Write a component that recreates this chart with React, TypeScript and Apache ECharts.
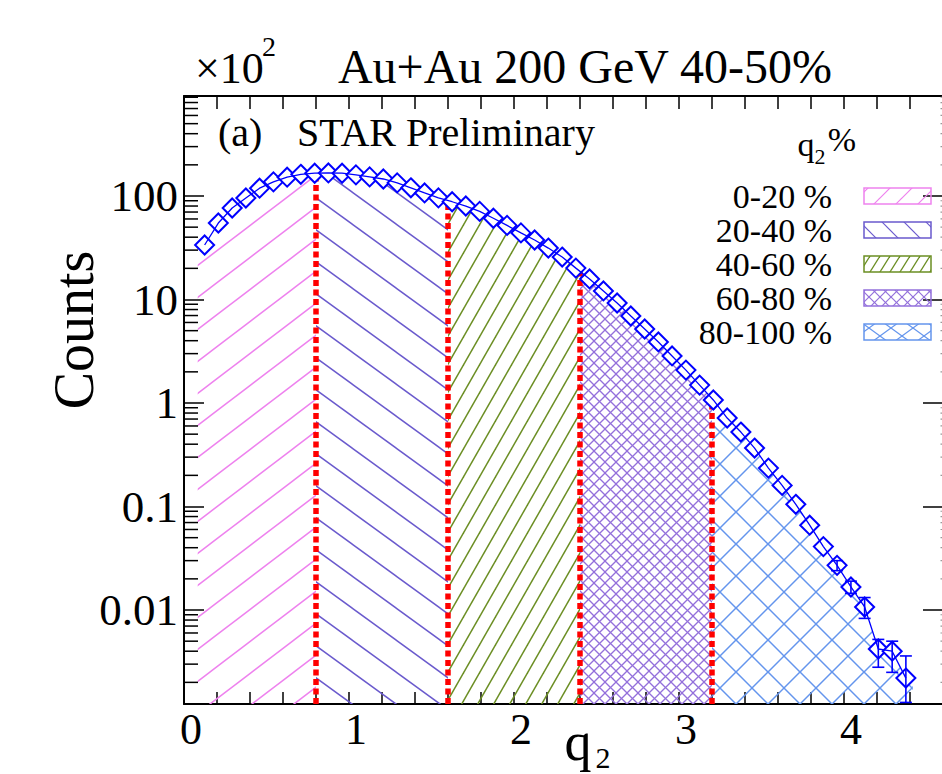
import React, { useEffect, useRef } from 'react';
import * as echarts from 'echarts';

// ---- data ----
const binCenters = [0.125, 0.208, 0.292, 0.375, 0.458, 0.542, 0.625, 0.708, 0.792, 0.875, 0.958, 1.042, 1.125, 1.208, 1.292, 1.375, 1.458, 1.542, 1.625, 1.708, 1.792, 1.875, 1.958, 2.042, 2.125, 2.208, 2.292, 2.375, 2.458, 2.542, 2.625, 2.708, 2.792, 2.875, 2.958, 3.042, 3.125, 3.208, 3.292, 3.375, 3.458, 3.542, 3.625, 3.708, 3.792, 3.875, 3.958, 4.042, 4.125, 4.208, 4.292, 4.375];
const counts = [33.6, 54.8, 76.6, 95.6, 119, 137, 152, 162, 166, 167, 166, 160, 153, 146, 134, 120, 107, 96, 88, 80, 71, 61, 52, 44, 37.6, 31.4, 25.7, 20.1, 15.8, 12.1, 9.25, 6.93, 5.19, 3.89, 2.85, 2.08, 1.49, 1.07, 0.716, 0.524, 0.367, 0.235, 0.16, 0.105, 0.066, 0.041, 0.027, 0.0167, 0.0107, 0.0042, 0.004, 0.0022];

const errQ = [3.958, 4.042, 4.125, 4.208, 4.292, 4.375];
const errLow = [0.024, 0.0145, 0.0083, 0.0028, 0.0025, 0.00128];
const errHigh = [0.03, 0.019, 0.0132, 0.0052, 0.005, 0.0036];

const cutPositions = [0.8, 1.6, 2.4, 3.2];
const cutTops = [166, 90, 18.6, 1.1];

const regionEdges = [0.083, 0.8, 1.6, 2.4, 3.2, 4.417];
const regionEdgeValues = [30, 166, 90, 18.6, 1.1, 0.002];
const regionLabels = ['0-20 %', '20-40 %', '40-60 %', '60-80 %', '80-100 %'];
const regionColors = ['#ee82ee', '#6a5acd', '#6b8e23', '#9370db', '#6495ed'];

const xTickValues = [0, 1, 2, 3, 4];
const xTickLabels = ['0', '1', '2', '3', '4'];
const yTickValues = [0.01, 0.1, 1, 10, 100];
const yTickLabels = ['0.01', '0.1', '1', '10', '100'];

const FONT = 'Liberation Serif';
const Y_MIN = 0.001236;
const Y_MAX = 925;
const X_MAX = 4.6;

function makeHatch(w: number, h: number, color: string, lw: number, dirs: string[]) {
  const c = document.createElement('canvas');
  c.width = w;
  c.height = h;
  const ctx = c.getContext('2d') as CanvasRenderingContext2D;
  ctx.strokeStyle = color;
  ctx.lineWidth = lw;
  for (const d of dirs) {
    for (let n = -2; n <= 2; n++) {
      ctx.beginPath();
      if (d === 'up') {
        ctx.moveTo(-w, 2 * h + n * h);
        ctx.lineTo(2 * w, -h + n * h);
      } else {
        ctx.moveTo(-w, -h + n * h);
        ctx.lineTo(2 * w, 2 * h + n * h);
      }
      ctx.stroke();
    }
  }
  return { image: c, repeat: 'repeat', imageWidth: w, imageHeight: h } as any;
}

export default function App() {
  const ref = useRef<HTMLDivElement>(null);
  useEffect(() => {
    document.body.style.margin = '0';
    if (!ref.current) return;
    const chart = echarts.init(ref.current, null as any, { renderer: 'svg' });

    const plotPatterns = [
      makeHatch(42, 32, regionColors[0], 1.5, ['up']),
      makeHatch(44, 32, regionColors[1], 1.5, ['down']),
      makeHatch(16, 28, regionColors[2], 1.5, ['up']),
      makeHatch(11, 11, regionColors[3], 1.3, ['up', 'down']),
      makeHatch(32, 32, regionColors[4], 1.5, ['up', 'down']),
    ];
    const legendPatterns = [
      makeHatch(22, 22, regionColors[0], 1.2, ['up']),
      makeHatch(22, 22, regionColors[1], 1.2, ['down']),
      makeHatch(10, 16, regionColors[2], 1.2, ['up']),
      makeHatch(11, 11, regionColors[3], 1.2, ['up', 'down']),
      makeHatch(22, 16, regionColors[4], 1.2, ['up', 'down']),
    ];

    const minorTicks: number[] = [];
    for (let e = -3; e <= 2; e++) {
      for (let m = 2; m <= 9; m++) {
        const v = m * Math.pow(10, e);
        if (v > Y_MIN && v < Y_MAX) minorTicks.push(v);
      }
    }

    const areaSeries = regionLabels.map((name, i) => {
      const a = regionEdges[i];
      const b = regionEdges[i + 1];
      const pts: number[][] = [[a, regionEdgeValues[i]]];
      binCenters.forEach((q, k) => {
        if (q > a && q < b) pts.push([q, counts[k]]);
      });
      pts.push([b, regionEdgeValues[i + 1]]);
      return {
        type: 'line',
        name,
        data: pts,
        symbol: 'none',
        showSymbol: false,
        silent: true,
        z: 1,
        lineStyle: { width: 0, opacity: 0 },
        areaStyle: { color: plotPatterns[i], opacity: 1, origin: 'start' },
      };
    });

    const points = binCenters.map((q, i) => [q, counts[i]]);

    const xFormatter = (v: number) => {
      const idx = xTickValues.findIndex((t) => Math.abs(t - v) < 1e-6);
      return idx >= 0 ? xTickLabels[idx] : '';
    };
    const yFormatter = (v: number) => {
      const idx = yTickValues.findIndex((t) => Math.abs(Math.log10(t) - Math.log10(v)) < 1e-6);
      return idx >= 0 ? yTickLabels[idx] : '';
    };

    const legendY = [196, 230, 264, 298, 332];
    const txt = (text: string, x: number, y: number, size: number, align = 'left', extra: any = {}) => ({
      type: 'text',
      x,
      y,
      z: 100,
      ...extra,
      style: { text, fontSize: size, fontFamily: FONT, fill: '#000', align, verticalAlign: 'middle' },
    });

    const graphic: any[] = [
      txt('×10', 195, 68, 44),
      txt('2', 262, 46, 28),
      txt('Au+Au 200 GeV 40-50%', 585, 66, 48, 'center'),
      txt('(a)', 218, 132, 40),
      txt('STAR Preliminary', 297, 132, 40),
      txt('Counts', 74, 330, 56, 'center', { rotation: Math.PI / 2 }),
      txt('q', 578, 742, 54, 'center'),
      txt('2', 603, 757, 30, 'center'),
      txt('q', 806, 144, 34, 'center'),
      txt('2', 820, 156, 22, 'center'),
      txt('%', 842, 139, 34, 'center'),
    ];
    regionLabels.forEach((label, i) => {
      graphic.push(txt(label, 832, legendY[i], 34, 'right'));
      graphic.push({
        type: 'rect',
        z: 100,
        shape: { x: 864, y: legendY[i] - 8, width: 67, height: 16 },
        style: { fill: legendPatterns[i], stroke: regionColors[i], lineWidth: 1.5 },
      });
    });

    const axisLine = { show: true, onZero: false, lineStyle: { color: '#000', width: 2 } };

    chart.setOption({
      animation: false,
      backgroundColor: '#fff',
      grid: { left: 184, top: 96, width: 759, height: 608, containLabel: false, outerBoundsMode: 'none' },
      xAxis: [
        {
          type: 'value',
          position: 'bottom',
          min: 0,
          max: X_MAX,
          interval: 0.2,
          axisLine,
          axisTick: { show: true, inside: true, length: 12, lineStyle: { color: '#000', width: 1.5 } },
          axisLabel: {
            show: true,
            margin: 3,
            color: '#000',
            fontFamily: FONT,
            fontSize: 44,
            padding: [0, 0, 0, 14],
            formatter: xFormatter,
          },
          splitLine: { show: false },
        },
        {
          type: 'value',
          position: 'top',
          min: 0,
          max: X_MAX,
          interval: 0.2,
          axisLine,
          axisTick: { show: true, inside: true, length: 13, lineStyle: { color: '#000', width: 1.5 } },
          axisLabel: { show: false },
          splitLine: { show: false },
        },
      ],
      yAxis: [
        {
          type: 'log',
          logBase: 10,
          position: 'left',
          min: Y_MIN,
          max: Y_MAX,
          axisLine,
          axisTick: { show: true, inside: true, length: 20, lineStyle: { color: '#000', width: 1.5 } },
          axisLabel: {
            show: true,
            margin: 6,
            color: '#000',
            fontFamily: FONT,
            fontSize: 45,
            showMinLabel: false,
            showMaxLabel: false,
            formatter: yFormatter,
          },
          splitLine: { show: false },
        },
        {
          type: 'log',
          logBase: 10,
          position: 'right',
          min: Y_MIN,
          max: Y_MAX,
          axisLine,
          axisTick: { show: true, inside: true, length: 20, lineStyle: { color: '#000', width: 1.5 } },
          axisLabel: { show: false },
          splitLine: { show: false },
        },
      ],
      graphic,
      series: [
        ...areaSeries,
        {
          type: 'custom',
          name: 'cuts',
          silent: true,
          z: 2,
          clip: false,
          data: cutPositions.map((q, i) => [q, cutTops[i]]),
          renderItem: (params: any, api: any) => {
            const q = api.value(0);
            const p1 = api.coord([q, Y_MIN]);
            const p2 = api.coord([q, api.value(1)]);
            return {
              type: 'line',
              shape: { x1: p1[0], y1: p1[1], x2: p2[0], y2: p2[1] },
              style: { stroke: '#ff0000', lineWidth: 5.5, lineDash: [6, 3.5], fill: null },
            };
          },
        },
        {
          type: 'custom',
          name: 'minorTicks',
          silent: true,
          z: 5,
          clip: false,
          data: minorTicks.map((v) => [0, v]),
          renderItem: (params: any, api: any) => {
            const v = api.value(1);
            const pl = api.coord([0, v]);
            const pr = api.coord([X_MAX, v]);
            return {
              type: 'group',
              children: [
                { type: 'line', shape: { x1: pl[0], y1: pl[1], x2: pl[0] + 14, y2: pl[1] }, style: { stroke: '#000', lineWidth: 1.5 } },
                { type: 'line', shape: { x1: pr[0] - 2.5, y1: pr[1], x2: pr[0], y2: pr[1] }, style: { stroke: '#999', lineWidth: 1.2 } },
              ],
            };
          },
        },
        {
          type: 'scatter',
          name: 'data',
          data: points,
          symbol: 'diamond',
          symbolSize: 19,
          z: 3,
          itemStyle: { color: '#ffffff', borderColor: '#0000ff', borderWidth: 2, opacity: 1 },
        },
        {
          type: 'line',
          name: 'dataLine',
          data: points,
          symbol: 'none',
          showSymbol: false,
          z: 4,
          lineStyle: { color: '#0000ff', width: 1.3 },
        },
        {
          type: 'custom',
          name: 'errors',
          silent: true,
          z: 4,
          clip: false,
          data: errQ.map((q, i) => [q, errLow[i], errHigh[i]]),
          encode: { x: 0, y: [1, 2] },
          renderItem: (params: any, api: any) => {
            const q = api.value(0);
            const lo = api.coord([q, api.value(1)]);
            const hi = api.coord([q, api.value(2)]);
            const st = { stroke: '#0000ff', lineWidth: 1.6 };
            return {
              type: 'group',
              children: [
                { type: 'line', shape: { x1: lo[0], y1: lo[1], x2: hi[0], y2: hi[1] }, style: st },
                { type: 'line', shape: { x1: lo[0] - 6, y1: lo[1], x2: lo[0] + 6, y2: lo[1] }, style: st },
                { type: 'line', shape: { x1: hi[0] - 6, y1: hi[1], x2: hi[0] + 6, y2: hi[1] }, style: st },
              ],
            };
          },
        },
      ],
    } as any);

    return () => chart.dispose();
  }, []);

  return <div ref={ref} style={{ width: 942, height: 774, overflow: 'hidden' }} />;
}
